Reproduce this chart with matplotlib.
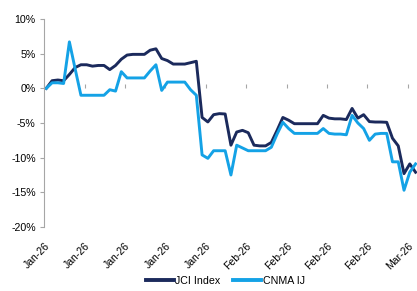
import matplotlib
matplotlib.use("Agg")
import matplotlib.pyplot as plt
import numpy as np

plt.rcParams['font.family'] = ['Liberation Sans', 'DejaVu Sans']

# daily values (calendar days from first observation), % change
jci = [0.0, 1.1, 1.2, 1.1, 2.0, 3.0, 3.4, 3.4, 3.2, 3.3,
       3.3, 2.7, 3.3, 4.2, 4.8, 4.9, 4.9, 4.9, 5.5, 5.7,
       4.3, 4.0, 3.5, 3.5, 3.5, 3.7, 3.9, -4.2, -4.85, -3.8,
       -3.65, -3.7, -8.2, -6.3, -6.06, -6.4, -8.2, -8.3, -8.3, -7.8,
       -6.06, -4.2, -4.6, -5.1, -5.1, -5.1, -5.1, -5.1, -3.9, -4.3,
       -4.4, -4.4, -4.5, -2.9, -4.3, -3.8, -4.8, -4.86, -4.86, -4.9,
       -7.2, -8.3, -12.3, -10.9, -12.1]
cnma = [0.0, 0.8, 0.8, 0.7, 6.7, 2.8, -1.0, -1.0, -1.0, -1.0,
        -1.0, -0.2, -0.4, 2.4, 1.5, 1.5, 1.5, 1.5, 2.5, 3.4,
        -0.3, 0.9, 0.9, 0.9, 0.9, -0.2, -1.0, -9.6, -10.1, -9.0,
        -9.0, -9.0, -12.5, -8.2, -8.6, -9.0, -9.0, -9.0, -9.0, -8.5,
        -6.6, -4.9, -5.8, -6.5, -6.5, -6.5, -6.5, -6.5, -5.8, -6.5,
        -6.6, -6.6, -6.7, -3.9, -5.0, -5.8, -7.5, -6.6, -6.5, -6.5,
        -10.6, -10.6, -14.7, -12.1, -10.9]
tick_labels = ["Jan-26", "Jan-26", "Jan-26", "Jan-26", "Jan-26",
               "Feb-26", "Feb-26", "Feb-26", "Feb-26", "Mar-26"]
series_names = ["JCI Index", "CNMA IJ"]

c_jci = "#1B2A5C"
c_cnma = "#14A2E6"
gray = "#A6A6A6"

fig = plt.figure(figsize=(4.17, 2.91), dpi=100)
ax = fig.add_axes([44/417, 1 - 227/291, 1 - 44/417, (227 - 19)/291])

x = np.arange(len(jci))
ax.plot(x, jci, color=c_jci, lw=2.1, label=series_names[0], solid_joinstyle='round')
ax.plot(x, cnma, color=c_cnma, lw=2.1, label=series_names[1], solid_joinstyle='round')

ax.set_ylim(-20, 10)
ax.set_xlim(-0.4, 64.25)
ax.set_yticks(np.arange(-20, 11, 5))
ax.set_yticklabels([f"{v}%" for v in range(-20, 11, 5)], fontsize=7.7, color="#000000")
ticks = np.arange(len(tick_labels)) * 7 - 0.35
ax.set_xticks(ticks)
ax.set_xticklabels(tick_labels, rotation=45, ha='right', rotation_mode='anchor', fontsize=7.5)
ax.tick_params(axis='x', length=0, pad=10)
ax.tick_params(axis='y', length=3, color=gray, width=0.8, pad=3)

for s in ['top', 'right', 'bottom']:
    ax.spines[s].set_visible(False)
ax.spines['left'].set_color(gray)
ax.spines['left'].set_linewidth(0.8)

sec = ax.secondary_xaxis(2/3)
sec.set_xticks(ticks)
sec.set_xticklabels([])
sec.tick_params(axis='x', direction='out', length=3, color=gray, width=0.8)
sec.spines['bottom'].set_color(gray)
sec.spines['bottom'].set_linewidth(0.8)
for s in ['top', 'left', 'right']:
    if s in sec.spines:
        sec.spines[s].set_visible(False)

leg = fig.legend(loc='center', bbox_to_anchor=(0.54, 1 - 281/291), ncol=2, frameon=False,
                 fontsize=7.7, handlelength=2.6, handletextpad=0.15, columnspacing=1.2)
for h in leg.get_lines():
    h.set_linewidth(2.8)

fig.savefig("out.png", dpi=100)
